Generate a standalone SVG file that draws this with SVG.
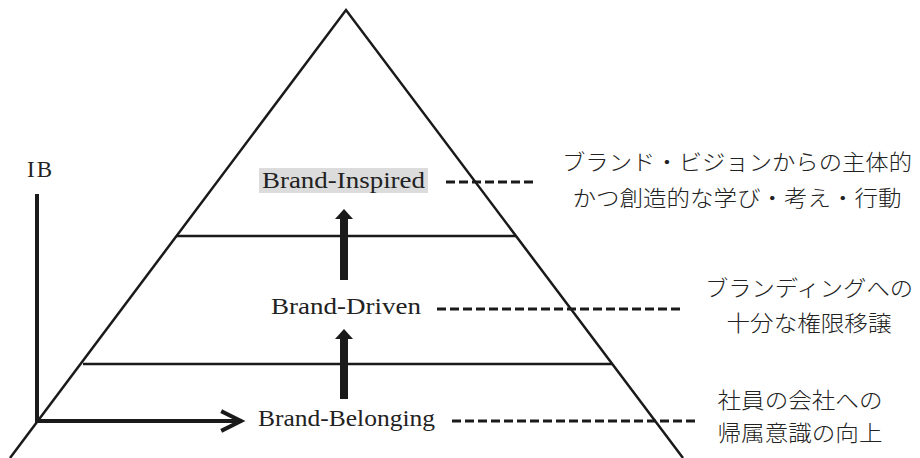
<svg xmlns="http://www.w3.org/2000/svg" width="920" height="458" viewBox="0 0 920 458">
<defs>
<style>
.ln{stroke:#1a1a1a;stroke-width:2.5;fill:none}
.ax{stroke:#1a1a1a;stroke-width:4;fill:none;stroke-linecap:square}
.dash{stroke:#1a1a1a;stroke-width:3;stroke-dasharray:9,4;fill:none}
.en{font-family:"Liberation Serif","DejaVu Serif",serif;font-size:23px;fill:#222}
.jp{font-family:"Noto Sans CJK JP",sans-serif;font-size:22px;fill:#222;text-anchor:middle;font-weight:300}
.up{fill:#1a1a1a}
</style>
</defs>
<rect width="920" height="458" fill="#fff"/>
<g id="pyramid">
<polyline class="ln" points="10,458 346,10 683,458"/>
<line class="ln" x1="176" y1="236" x2="516" y2="236"/>
<line class="ln" x1="83" y1="364" x2="612" y2="364"/>
</g>
<g id="axis">
<text class="en" x="27" y="177" font-size="21" textLength="25" lengthAdjust="spacing">IB</text>
<line class="ax" x1="37" y1="196" x2="37" y2="421"/>
<line class="ax" x1="37" y1="421" x2="240" y2="421"/>
<polyline class="ax" points="223,412 241,421 223,430" stroke-linecap="butt" stroke-linejoin="miter"/>
</g>
<g id="node-inspired">
<rect x="259" y="168" width="169" height="25" fill="#dcdcdc"/>
<text class="en" x="262" y="188" textLength="163" lengthAdjust="spacingAndGlyphs">Brand-Inspired</text>
</g>
<g id="node-driven">
<text class="en" x="271" y="314" textLength="150" lengthAdjust="spacingAndGlyphs">Brand-Driven</text>
</g>
<g id="node-belonging">
<text class="en" x="258" y="426" textLength="177" lengthAdjust="spacingAndGlyphs">Brand-Belonging</text>
</g>
<g id="desc-inspired">
<text class="jp" x="737" y="170" textLength="350" lengthAdjust="spacingAndGlyphs">ブランド・ビジョンからの主体的</text>
<text class="jp" x="737" y="206" textLength="329" lengthAdjust="spacingAndGlyphs">かつ創造的な学び・考え・行動</text>
</g>
<g id="desc-driven">
<text class="jp" x="809" y="296" textLength="208" lengthAdjust="spacingAndGlyphs">ブランディングへの</text>
<text class="jp" x="809" y="331" textLength="165" lengthAdjust="spacingAndGlyphs">十分な権限移譲</text>
</g>
<g id="desc-belonging">
<text class="jp" x="800" y="408" textLength="165" lengthAdjust="spacingAndGlyphs">社員の会社への</text>
<text class="jp" x="800" y="441" textLength="165" lengthAdjust="spacingAndGlyphs">帰属意識の向上</text>
</g>
<g id="connectors">
<line class="dash" x1="446" y1="182" x2="536" y2="182"/>
<line class="dash" x1="437" y1="309" x2="683" y2="309"/>
<line class="dash" x1="452" y1="421" x2="697" y2="421"/>
<polygon class="up" points="344,209 353,219 348,219 348,280 340,280 340,219 335,219"/>
<polygon class="up" points="344,329 353,339 348,339 348,399 340,399 340,339 335,339"/>
</g>
</svg>
